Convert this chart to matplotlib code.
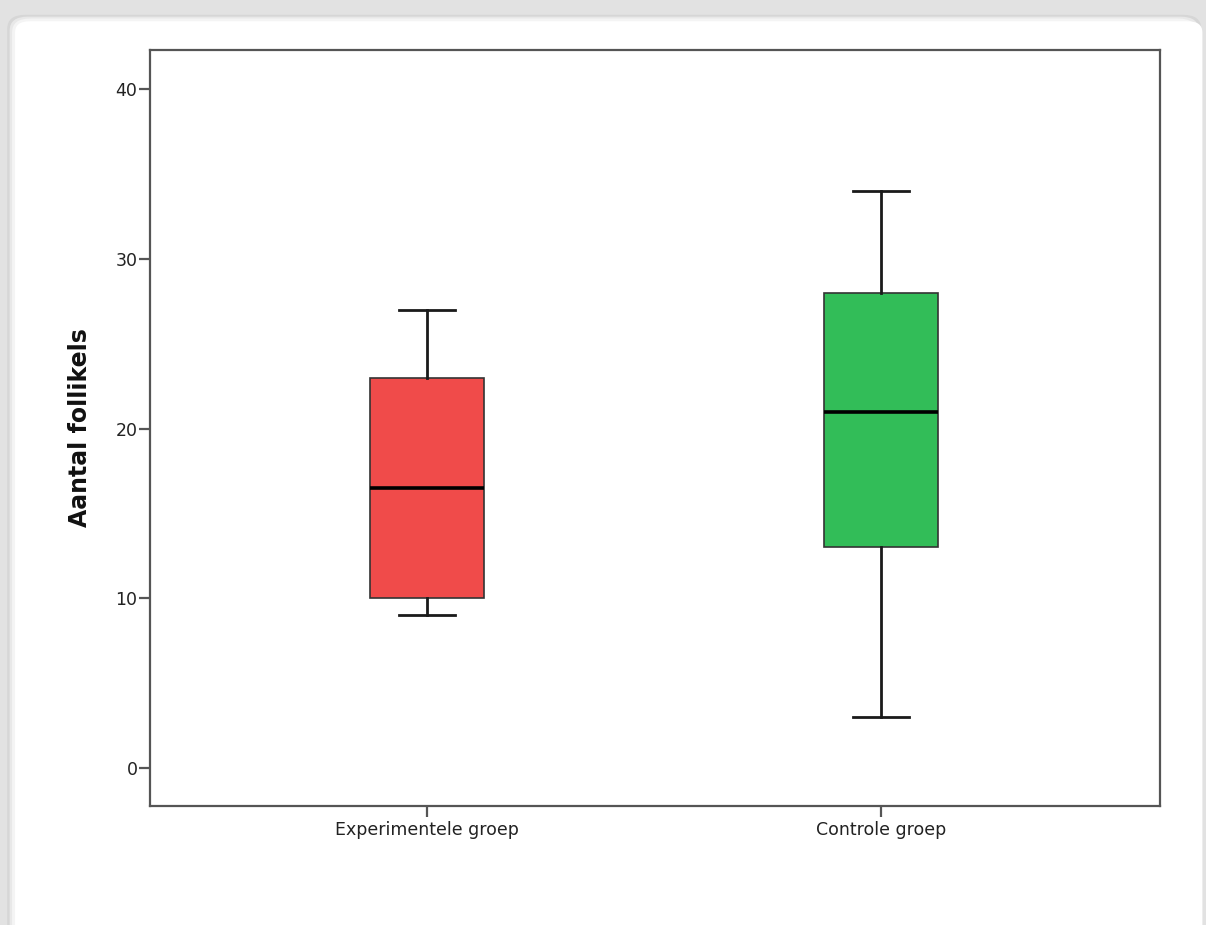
import matplotlib.pyplot as plt
from matplotlib.patches import FancyBboxPatch

plt.rcParams["font.family"] = ["DejaVu Sans"]

# Box summary per group
groups = ["Experimentele groep", "Controle groep"]
whislo = [9, 3]
q1 = [10, 13]
med = [16.5, 21]
q3 = [23, 28]
whishi = [27, 34]
colors = ["#f04b4a", "#32bd58"]
yticks = [0, 10, 20, 30, 40]

fig = plt.figure(figsize=(12.06, 9.25), dpi=100)
fig.patch.set_facecolor("#e2e2e2")

# white panel with soft edge, kept behind the axes
for i, c in enumerate(["#d6d6d6", "#e8e8e8", "#f4f4f4"]):
    d = i * 0.002
    fig.patches.append(FancyBboxPatch((0.006 + d, -0.05), 0.99 - 2 * d, 1.034 - d,
                                      boxstyle="round,pad=0,rounding_size=0.015",
                                      transform=fig.transFigure, facecolor=c,
                                      edgecolor="none", zorder=-10))
fig.patches.append(FancyBboxPatch((0.0125, -0.05), 0.9845, 1.027,
                                  boxstyle="round,pad=0,rounding_size=0.012",
                                  transform=fig.transFigure, facecolor="white",
                                  edgecolor="none", zorder=-9))

ax = fig.add_axes([0.1244, 0.1286, 0.8375, 0.8173])
ax.set_facecolor("white")

stats = []
for g, lo, a, m, b, hi in zip(groups, whislo, q1, med, q3, whishi):
    stats.append({"label": g, "whislo": lo, "q1": a, "med": m, "q3": b, "whishi": hi, "fliers": []})

bp = ax.bxp(stats, positions=[1, 2], widths=0.251, patch_artist=True, showfliers=False,
            boxprops=dict(edgecolor="#333333", linewidth=1.2),
            medianprops=dict(color="black", linewidth=2.6),
            whiskerprops=dict(color="#1a1a1a", linewidth=2),
            capprops=dict(color="#1a1a1a", linewidth=2),
            capwidths=0.123)
for patch, c in zip(bp["boxes"], colors):
    patch.set_facecolor(c)

ax.set_xlim(0.39, 2.615)
ax.set_ylim(-2.24, 42.3)
ax.set_yticks(yticks)
ax.set_xticks([1, 2])
ax.set_xticklabels(groups)

for s in ax.spines.values():
    s.set_color("#555555")
    s.set_linewidth(1.6)

ax.tick_params(axis="both", direction="out", length=8, width=1.6, color="#555555",
               labelsize=12.5, labelcolor="#222222")
ax.tick_params(axis="y", pad=1)
ax.tick_params(axis="x", pad=3)

ax.set_ylabel("Aantal follikels", fontsize=17, fontweight="bold", color="#111111")
ax.yaxis.set_label_coords(-0.0574, 0.5)

fig.savefig("out.png", dpi=100, facecolor=fig.get_facecolor())
